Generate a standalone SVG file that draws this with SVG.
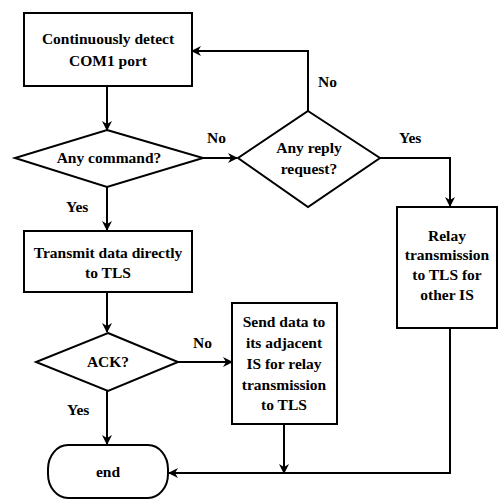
<svg xmlns="http://www.w3.org/2000/svg" width="499" height="500" viewBox="0 0 499 500">
<defs>
<marker id="arr" markerWidth="10" markerHeight="10" refX="9" refY="5" orient="auto" markerUnits="userSpaceOnUse">
<path d="M0,0 L10,5 L0,10 L3,5 Z" fill="#000"/>
</marker>
</defs>
<style>
.shape{fill:#fff;stroke:#000;stroke-width:2}
.t{font-family:"Liberation Serif","Times New Roman",serif;font-weight:bold;font-size:15.5px;text-anchor:middle;fill:#000}
.lbl{font-family:"Liberation Serif","Times New Roman",serif;font-weight:bold;font-size:15.5px;fill:#000}
.c{fill:none;stroke:#000;stroke-width:2}
</style>
<rect width="499" height="500" fill="#fff"/>
<g id="connectors">
<path class="c" d="M107,86 V130" marker-end="url(#arr)"/>
<path class="c" d="M203,158 H237" marker-end="url(#arr)"/>
<path class="c" d="M308,111 V51 H192" marker-end="url(#arr)"/>
<path class="c" d="M380,158 H450 V206" marker-end="url(#arr)"/>
<path class="c" d="M107,187 V230" marker-end="url(#arr)"/>
<path class="c" d="M107,292 V332" marker-end="url(#arr)"/>
<path class="c" d="M178,362 H232" marker-end="url(#arr)"/>
<path class="c" d="M107,391 V444" marker-end="url(#arr)"/>
<path class="c" d="M284,424 V473" marker-end="url(#arr)"/>
<path class="c" d="M450,328 V473 H169" marker-end="url(#arr)"/>
<text class="lbl" x="318" y="87">No</text>
<text class="lbl" x="207" y="143">No</text>
<text class="lbl" x="399" y="143">Yes</text>
<text class="lbl" x="66" y="212">Yes</text>
<text class="lbl" x="193" y="348">No</text>
<text class="lbl" x="67" y="415">Yes</text>
</g>
<g id="detect">
<rect class="shape" x="24" y="13" width="168" height="73"/>
<text class="t" x="108" y="44">Continuously detect</text>
<text class="t" x="108" y="66">COM1 port</text>
</g>
<g id="anycommand">
<polygon class="shape" points="107,130 203,158 107,187 15,158"/>
<text class="t" x="109" y="163">Any command?</text>
</g>
<g id="anyreply">
<polygon class="shape" points="308,111 380,158 308,207 238,158"/>
<text class="t" x="309" y="153">Any reply</text>
<text class="t" x="309" y="174">request?</text>
</g>
<g id="relay">
<rect class="shape" x="397" y="207" width="100" height="121"/>
<text class="t" x="447" y="241">Relay</text>
<text class="t" x="447" y="260">transmission</text>
<text class="t" x="447" y="280">to TLS for</text>
<text class="t" x="447" y="300">other IS</text>
</g>
<g id="transmit">
<rect class="shape" x="24" y="231" width="168" height="61"/>
<text class="t" x="108" y="258">Transmit data directly</text>
<text class="t" x="108" y="278">to TLS</text>
</g>
<g id="ack">
<polygon class="shape" points="108,333 178,362 108,391 36,362"/>
<text class="t" x="108" y="367">ACK?</text>
</g>
<g id="send">
<rect class="shape" x="232" y="303" width="105" height="121"/>
<text class="t" x="284" y="327">Send data to</text>
<text class="t" x="284" y="348">its adjacent</text>
<text class="t" x="284" y="369">IS for relay</text>
<text class="t" x="284" y="390">transmission</text>
<text class="t" x="284" y="410">to TLS</text>
</g>
<g id="end">
<rect class="shape" x="48" y="445" width="120" height="53" rx="20" ry="24"/>
<text class="t" x="108" y="477">end</text>
</g>
</svg>
